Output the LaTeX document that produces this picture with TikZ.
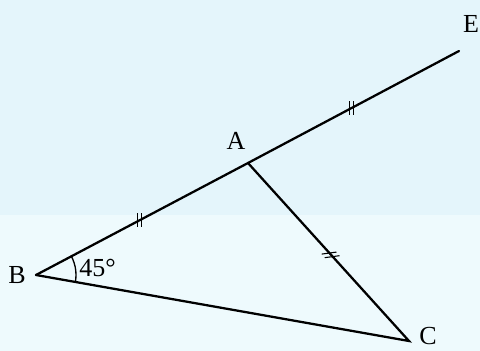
\documentclass[tikz,border=0pt]{standalone}
\usepackage{fontspec}
\setmainfont{Liberation Serif}
\usetikzlibrary{calc}
\definecolor{bgtop}{RGB}{228,245,251}
\definecolor{bgbot}{RGB}{238,250,253}
\tikzset{
  seg/.style={line width=1.7pt, line cap=round},
  tick/.style={line width=0.8pt},
  lab/.style={font=\fontsize{19.5}{21}\selectfont, inner sep=0pt}
}
\begin{document}
\begin{tikzpicture}[x=0.75pt, y=-0.75pt]
\useasboundingbox (0,0) rectangle (480,351);
\fill[bgtop] (0,0) rectangle (480,215);
\fill[bgbot] (0,215) rectangle (480,351);
% points
\coordinate (B) at (36,275);
\coordinate (A) at (248,163);
\coordinate (E) at (459,51);
\coordinate (C) at (409,341);
% sides
\draw[seg] (B) -- (A) -- (E);
\draw[seg] (A) -- (C) -- (B);
% angle arc
\begin{scope}
  \clip (B) -- (A) -- (C) -- cycle;
  \draw[line width=1pt] (B) circle[radius=40];
\end{scope}
% tick marks
\coordinate (m1) at ($(B)!0.49!(A)$);
\coordinate (m2) at ($(A)!0.49!(E)$);
\coordinate (m3) at ($(A)!0.51!(C)$);
\draw[tick] ($(m1)+(-2,-7)$) -- ++(0,14);
\draw[tick] ($(m1)+(2,-7)$) -- ++(0,14);
\draw[tick] ($(m2)+(-1.7,-7)$) -- ++(0,14);
\draw[tick] ($(m2)+(1.7,-7)$) -- ++(0,14);
\draw[tick] ($(m3)+(-8.4,0.3)$) -- ++(14.8,-2);
\draw[tick] ($(m3)+(-5.4,3.9)$) -- ++(14.8,-2);
% labels
\node[lab] (lA) at (236,141) {A};
\node[lab] (lB) at (17,275) {B};
\node[lab] (lC) at (428,336) {C};
\node[lab] (lE) at (471,24) {E};
\node[lab, anchor=west] (lang) at (79,268) {45°};
\end{tikzpicture}
\end{document}
